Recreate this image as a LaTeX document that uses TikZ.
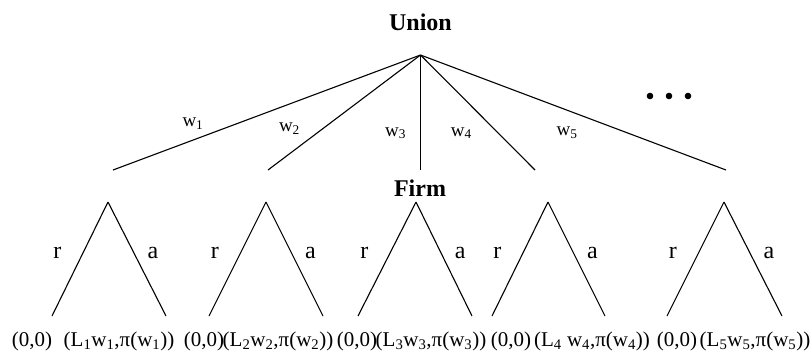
\documentclass[tikz,border=0pt]{standalone}
\usepackage{fontspec}
\setmainfont{Liberation Serif}
\usetikzlibrary{positioning}
\tikzset{
  branch/.style={draw=black, line width=1.1pt},
  player/.style={font=\fontsize{24}{28}\selectfont\bfseries, inner sep=0pt},
  wlab/.style={font=\fontsize{19}{23}\selectfont, inner sep=0pt},
  act/.style={font=\fontsize{24}{28}\selectfont, inner sep=0pt},
  pay/.style={font=\fontsize{21}{25}\selectfont, inner sep=0pt},
}

\begin{document}
\begin{tikzpicture}[x=1pt, y=-1pt]
  \useasboundingbox (0,0) rectangle (812,360);
  % union move
  \coordinate (u) at (420.5,55);
  \node[player, above=24pt of u] (union) {Union};
  \coordinate (e1) at (113,170);
  \coordinate (e2) at (268,170);
  \coordinate (e3) at (420.5,170);
  \coordinate (e4) at (535,170);
  \coordinate (e5) at (726,170);
  \draw[branch] (u) -- node[wlab, pos=0.74, above=10.5pt]{w\textsubscript{1}} (e1);
  \draw[branch] (u) -- node[wlab, pos=0.643, left=22pt]{w\textsubscript{2}} (e2);
  \draw[branch] (u) -- node[wlab, pos=0.68, left=14pt]{w\textsubscript{3}} (e3);
  \draw[branch] (u) -- node[wlab, pos=0.68, left=26pt]{w\textsubscript{4}} (e4);
  \draw[branch] (u) -- node[wlab, pos=0.48, below=16pt]{w\textsubscript{5}} (e5);
  \foreach \x in {650,669,688} \fill (\x,96) circle (3.3);
  % firm moves
  \node[player, anchor=base] (firm) at (420,196) {Firm};
  \coordinate (f1) at (108,202);
  \coordinate (f2) at (266,202);
  \coordinate (f3) at (416,202);
  \coordinate (f4) at (548,202);
  \coordinate (f5) at (724,202);
  \coordinate (r1) at (52,316);  \coordinate (a1) at (166,316);
  \coordinate (r2) at (209,316); \coordinate (a2) at (323,316);
  \coordinate (r3) at (358,316); \coordinate (a3) at (472,316);
  \coordinate (r4) at (492,316); \coordinate (a4) at (605,316);
  \coordinate (r5) at (667,316); \coordinate (a5) at (782,316);
  \draw[branch] (f1) -- node[act, pos=0.45, left=21pt]{r} (r1);
  \draw[branch] (f1) -- node[act, pos=0.45, right=13pt]{a} (a1);
  \draw[branch] (f2) -- node[act, pos=0.45, left=21pt]{r} (r2);
  \draw[branch] (f2) -- node[act, pos=0.45, right=13pt]{a} (a2);
  \draw[branch] (f3) -- node[act, pos=0.45, left=21pt]{r} (r3);
  \draw[branch] (f3) -- node[act, pos=0.45, right=13pt]{a} (a3);
  \draw[branch] (f4) -- node[act, pos=0.45, left=21pt]{r} (r4);
  \draw[branch] (f4) -- node[act, pos=0.45, right=13pt]{a} (a4);
  \draw[branch] (f5) -- node[act, pos=0.45, left=21pt]{r} (r5);
  \draw[branch] (f5) -- node[act, pos=0.45, right=13pt]{a} (a5);
  % payoffs
  \node[pay] (p1r) at (32,341) {(0,0)};
  \node[pay] (p1a) at (119,341) {(L\textsubscript{1}w\textsubscript{1},π(w\textsubscript{1}))};
  \node[pay] (p2r) at (204,341) {(0,0)};
  \node[pay] (p2a) at (278,341) {(L\textsubscript{2}w\textsubscript{2},π(w\textsubscript{2}))};
  \node[pay] (p3r) at (357,341) {(0,0)};
  \node[pay] (p3a) at (431,341) {(L\textsubscript{3}w\textsubscript{3},π(w\textsubscript{3}))};
  \node[pay] (p4r) at (511,341) {(0,0)};
  \node[pay] (p4a) at (592,341) {(L\textsubscript{4} w\textsubscript{4},π(w\textsubscript{4}))};
  \node[pay] (p5r) at (677,341) {(0,0)};
  \node[pay] (p5a) at (755,341) {(L\textsubscript{5}w\textsubscript{5},π(w\textsubscript{5}))};
\end{tikzpicture}
\end{document}
